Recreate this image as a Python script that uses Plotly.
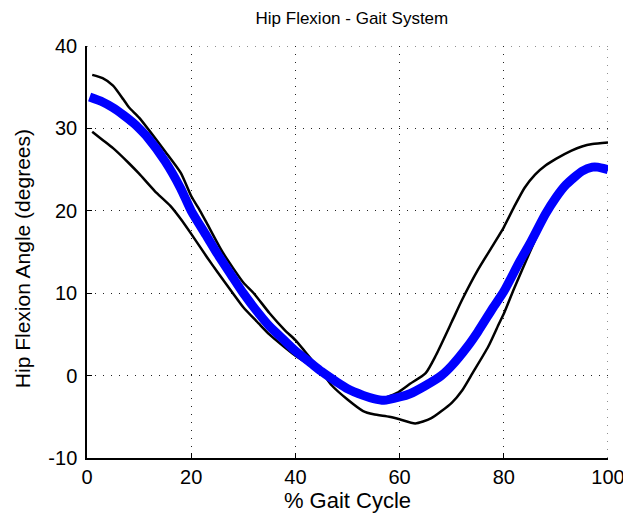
import plotly.graph_objects as go

# % gait cycle positions and hip flexion angles (degrees)
blue_x = [0.5, 3, 5, 7, 9, 10, 11.5, 15, 18, 20, 23, 25, 28, 30, 33, 35, 38, 40, 43, 45, 48, 50, 53, 55, 57, 60, 62, 65, 68, 70, 73, 75, 78, 80, 83, 85, 88, 90, 92, 95, 97, 98, 100]
blue_y = [33.8, 33.2, 32.5, 31.6, 30.6, 30.0, 29.0, 26.0, 22.7, 20.0, 16.9, 14.8, 11.9, 10.0, 7.5, 6.0, 4.2, 3.0, 1.5, 0.5, -0.8, -1.6, -2.4, -2.8, -3.0, -2.6, -2.2, -1.2, 0.0, 1.2, 3.5, 5.3, 8.3, 10.2, 13.8, 16.0, 19.6, 21.6, 23.2, 24.8, 25.3, 25.3, 25.0]

black1_x = [1, 3, 5, 7, 8, 10, 12, 15, 18, 20, 21.7, 23, 26, 30, 32, 35, 38, 40, 42, 45, 47, 50, 53, 55, 58, 60, 63, 66, 70, 72, 74, 77, 79, 80, 82, 85, 88, 90, 93, 95, 97, 100]
black1_y = [36.5, 36.1, 35.2, 33.5, 32.6, 31.3, 29.7, 27.2, 24.6, 21.8, 20.0, 18.5, 15.0, 11.3, 10.0, 7.6, 5.5, 4.3, 2.8, 0.5, -1.2, -2.9, -4.3, -4.7, -5.0, -5.3, -5.8, -5.2, -3.3, -1.8, 0.3, 3.5, 6.2, 7.5, 10.6, 15.0, 19.2, 21.2, 23.6, 24.8, 25.2, 25.0]

black2_x = [1, 3, 5, 8, 10, 13, 16, 18, 20, 23, 25, 28, 30, 33, 35, 38, 40, 43, 45, 48, 50, 53, 55, 57, 59.5, 62, 65, 67, 70, 72, 75, 78, 80, 82, 84, 86, 88, 90, 93, 95, 97, 100]
black2_y = [29.6, 28.6, 27.6, 25.8, 24.5, 22.4, 20.6, 19.0, 17.2, 14.4, 12.6, 10.0, 8.3, 6.3, 5.0, 3.4, 2.4, 1.2, 0.3, -0.8, -1.6, -2.4, -2.7, -2.7, -2.1, -1.0, 0.3, 2.5, 6.5, 9.2, 12.8, 15.9, 18.0, 20.5, 22.8, 24.4, 25.5, 26.3, 27.3, 27.8, 28.1, 28.3]

x_ticks = [0, 20, 40, 60, 80, 100]
y_ticks = [-10, 0, 10, 20, 30, 40]

title_text = "Hip Flexion - Gait System"
x_title = "% Gait Cycle"
y_title = "Hip Flexion Angle (degrees)"

fig = go.Figure()
fig.add_trace(go.Scatter(x=black1_x, y=black1_y, mode="lines",
                         line=dict(color="black", width=2.5, shape="spline", smoothing=0.6)))
fig.add_trace(go.Scatter(x=black2_x, y=black2_y, mode="lines",
                         line=dict(color="black", width=2.5, shape="spline", smoothing=0.6)))
fig.add_trace(go.Scatter(x=blue_x, y=blue_y, mode="lines",
                         line=dict(color="#0000ff", width=9, shape="spline", smoothing=0.6)))

font_family = "Liberation Sans, Arial, sans-serif"
grid_color = "#222222"
grid_dash = "1px,7px"
axis_common = dict(
    showline=True, linecolor="black", linewidth=1.5, mirror=False,
    ticks="inside", ticklen=5, tickwidth=1, tickcolor="black",
    showgrid=True, gridcolor=grid_color, gridwidth=1, griddash=grid_dash,
    zeroline=False, automargin=False,
    tickfont=dict(family=font_family, size=20, color="black"),
)

fig.update_xaxes(range=[x_ticks[0], x_ticks[-1]], tickvals=x_ticks, ticktext=[str(v) for v in x_ticks],
                 ticklabelstandoff=0,
                 title=dict(text=x_title, font=dict(family=font_family, size=22, color="black"), standoff=4),
                 **axis_common)
fig.update_yaxes(range=[y_ticks[0], y_ticks[-1]], tickvals=y_ticks, ticktext=[str(v) for v in y_ticks],
                 ticklabelstandoff=4, **axis_common)

# dotted grid lines on the top and right edges of the axes (plotly omits edge gridlines)
fig.add_shape(type="line", xref="paper", yref="y", x0=0, x1=1, y0=y_ticks[-1], y1=y_ticks[-1],
              line=dict(color=grid_color, width=1, dash=grid_dash), layer="below")
fig.add_shape(type="line", xref="x", yref="paper", x0=x_ticks[-1], x1=x_ticks[-1], y0=0, y1=1,
              line=dict(color=grid_color, width=1, dash=grid_dash), layer="below")

# y-axis title as rotated annotation to place it like the reference
fig.add_annotation(text=y_title, textangle=-90, xref="paper", yref="paper",
                   x=-0.1248, y=0.485, xanchor="center", yanchor="middle", showarrow=False,
                   font=dict(family=font_family, size=21, color="black"))

# page body adds an 8px offset; margins compensate so the plot area lands at 87..608 x 46..458
fig.update_layout(
    width=631, height=519,
    margin=dict(l=79, r=31, t=38, b=69),
    paper_bgcolor="white", plot_bgcolor="white",
    showlegend=False,
    title=dict(text=title_text, x=0.545, xanchor="center", y=0.981, yanchor="middle",
               font=dict(family=font_family, size=17, color="black")),
)

fig.write_html("out.html")
